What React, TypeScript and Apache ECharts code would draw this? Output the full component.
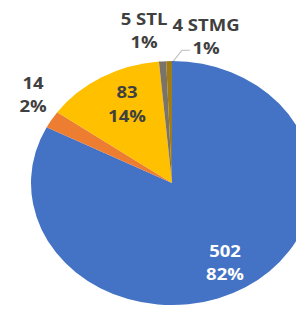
import React, { useEffect, useRef } from "react";
import * as echarts from "echarts";

const values = [502, 14, 83, 5, 4];
const names = ["", "", "", "STL", "STMG"];
const percentLabels = ["82%", "2%", "14%", "1%", "1%"];
const colors = ["#4472C4", "#ED7D31", "#FFC000", "#7A7468", "#A07C12"];
const labelColors = ["#ffffff", "#404040", "#404040", "#404040", "#404040"];
// label block centres in chart (unscaled) coordinates
const labelX = [225, 33, 127, 144, 206];
const labelY = [303, 109, 120, 35, 42];

const W = 296;
const H = 357;
const SY = 309 / 357;

export default function App() {
  const ref = useRef<HTMLDivElement>(null);
  useEffect(() => {
    document.body.style.margin = "0";
    document.body.style.overflow = "hidden";
    const chart = echarts.init(ref.current!, null, { renderer: "svg" });
    chart.setOption({
      animation: false,
      backgroundColor: "#ffffff",
      series: [
        {
          type: "pie",
          center: [172, 211.5],
          radius: 141,
          startAngle: 90,
          clockwise: true,
          silent: true,
          data: values.map((v, i) => ({
            value: v,
            name: names[i],
            itemStyle: { color: colors[i] },
            label: { color: labelColors[i] },
          })),
          label: {
            show: true,
            position: "inside",
            fontFamily: "Open Sans",
            fontWeight: "bold",
            fontSize: 18.5,
            lineHeight: 27,
            formatter: (p: any) =>
              (p.name ? `${p.value} ${p.name}` : `${p.value}`) +
              "\n" +
              percentLabels[p.dataIndex],
          },
          labelLine: { show: false },
          labelLayout: (p: any) => ({
            x: labelX[p.dataIndex],
            y: labelY[p.dataIndex],
            align: "center",
            verticalAlign: "middle",
          }),
        },
      ],
      graphic: [
        {
          type: "polyline",
          silent: true,
          shape: {
            points: [
              [173, 71],
              [182, 58],
              [190, 58],
            ],
          },
          style: { stroke: "#bfbfbf", lineWidth: 1.2, fill: null },
        },
      ],
    });
    return () => chart.dispose();
  }, []);
  return (
    <div
      style={{
        position: "fixed",
        left: 0,
        top: 0,
        width: W,
        height: 309,
        overflow: "hidden",
        background: "#fff",
      }}
    >
      <div
        ref={ref}
        style={{
          width: W,
          height: H,
          transform: `scaleY(${SY})`,
          transformOrigin: "0 0",
        }}
      />
    </div>
  );
}
